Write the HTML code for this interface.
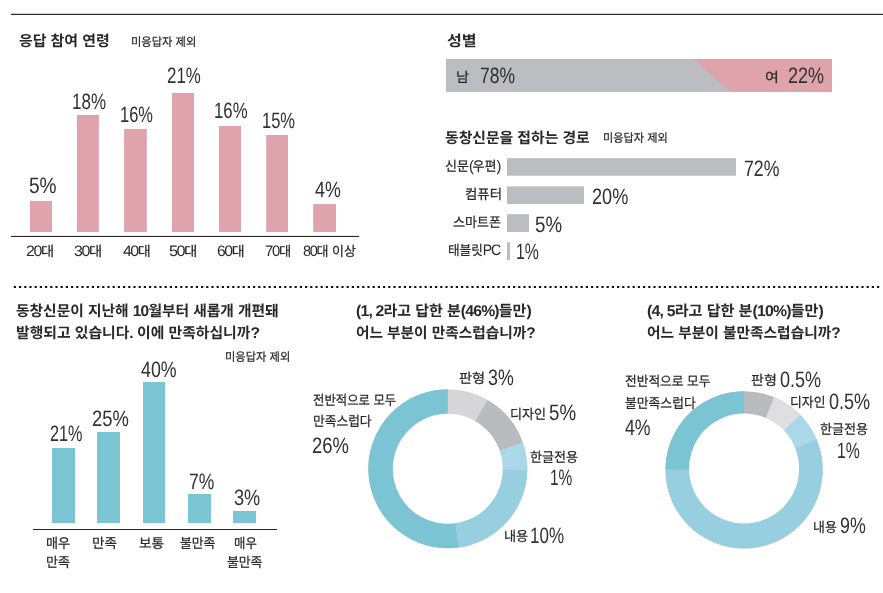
<!DOCTYPE html>
<html lang="ko">
<head>
<meta charset="utf-8">
<title>동창신문 설문조사 결과</title>
<style>
html,body{margin:0;padding:0;background:#fff;}
body{width:883px;height:593px;position:relative;overflow:hidden;
  font-family:"Liberation Sans","Noto Sans CJK KR","NanumGothic",sans-serif;color:#2a2829;}
#shapes{position:absolute;left:0;top:0;width:883px;height:593px;display:block;}
.t{position:absolute;white-space:nowrap;line-height:1;transform-origin:0 0;margin:0;padding:0;}
.b{font-weight:700;}
.r{font-weight:400;-webkit-text-stroke:0.22px currentColor;}
.n{font-weight:400;color:#323031;}
.r .d{font-size:1.12em;letter-spacing:-0.09em;-webkit-text-stroke:0;}
.b .d{font-size:1.05em;letter-spacing:-0.05em;}
</style>
</head>
<body>
<svg id="shapes" width="883" height="593" viewBox="0 0 883 593" shape-rendering="geometricPrecision">
<rect x="11" y="13.8" width="872" height="1.2" fill="#2a2829"/>
<line x1="13.8" y1="287" x2="880" y2="287" stroke="#111" stroke-width="2" stroke-dasharray="2.2 3"/>
<rect x="30.0" y="201.0" width="22.0" height="31.0" fill="#dfa3ab"/>
<rect x="76.9" y="115.0" width="22.0" height="117.0" fill="#dfa3ab"/>
<rect x="124.1" y="129.0" width="22.7" height="103.0" fill="#dfa3ab"/>
<rect x="172.0" y="93.0" width="22.0" height="139.0" fill="#dfa3ab"/>
<rect x="219.0" y="126.0" width="22.0" height="106.0" fill="#dfa3ab"/>
<rect x="266.2" y="135.0" width="21.8" height="97.0" fill="#dfa3ab"/>
<rect x="313.2" y="204.0" width="22.8" height="28.0" fill="#dfa3ab"/>
<rect x="11" y="235.9" width="348" height="1.1" fill="#2a2829"/>
<rect x="446" y="59" width="386" height="33" fill="#bcbdc0"/>
<polygon points="693,59 832,59 832,92 731,92" fill="#dfa3ab"/>
<rect x="507" y="158.2" width="229.0" height="17.5" fill="#bcbdc0"/>
<rect x="507" y="186.3" width="77.0" height="17.7" fill="#bcbdc0"/>
<rect x="507" y="214.2" width="22.0" height="17.8" fill="#bcbdc0"/>
<rect x="507" y="242.3" width="3.0" height="17.7" fill="#bcbdc0"/>
<rect x="52.0" y="448.0" width="23.0" height="75.0" fill="#7ac4d4"/>
<rect x="97.0" y="432.0" width="23.0" height="91.0" fill="#7ac4d4"/>
<rect x="143.0" y="382.0" width="22.0" height="141.0" fill="#7ac4d4"/>
<rect x="188.0" y="494.0" width="23.0" height="29.0" fill="#7ac4d4"/>
<rect x="233.0" y="511.0" width="23.0" height="12.0" fill="#7ac4d4"/>
<rect x="33" y="529" width="244" height="1" fill="#2a2829"/>
<circle cx="447.80" cy="468.80" r="79.50" fill="#d6d6d9"/>
<path fill="#babbbf" d="M447.80 468.80 L487.55 399.95 A79.50 79.50 0 0 1 523.10 443.31 Z"/>
<path fill="#abd8e9" d="M447.80 468.80 L522.74 442.26 A79.50 79.50 0 0 1 527.25 471.57 Z"/>
<path fill="#97cfe0" d="M447.80 468.80 L527.28 470.46 A79.50 79.50 0 0 1 457.21 547.74 Z"/>
<path fill="#7ac4d4" d="M447.80 468.80 L458.31 547.60 A79.50 79.50 0 1 1 447.80 389.30 Z"/>
<circle cx="447.80" cy="468.80" r="55.00" fill="#fff"/>
<circle cx="744.10" cy="469.80" r="78.60" fill="#babbbf"/>
<path fill="#dfdee2" d="M744.10 469.80 L774.18 397.18 A78.60 78.60 0 0 1 800.93 415.50 Z"/>
<path fill="#abd8e9" d="M744.10 469.80 L800.16 414.71 A78.60 78.60 0 0 1 816.98 440.36 Z"/>
<path fill="#97cfe0" d="M744.10 469.80 L816.56 439.34 A78.60 78.60 0 1 1 665.51 468.29 Z"/>
<path fill="#7ac4d4" d="M744.10 469.80 L665.50 469.39 A78.60 78.60 0 0 1 744.10 391.20 Z"/>
<circle cx="744.10" cy="468.50" r="55.00" fill="#fff"/>
</svg>
<div id="t1" class="t b" style="left:18.68px;top:33.56px;font-size:14.80px;transform:scaleX(1.0090) rotate(0.03deg)">응답 참여 연령</div>
<div id="t1s" class="t r" style="left:130.55px;top:36.63px;font-size:11.80px;transform:scaleX(0.9546) rotate(0.03deg)">미응답자 제외</div>
<div id="a_v1" class="t n" style="left:28.52px;top:174.62px;font-size:22.30px;transform:scaleX(0.8570) rotate(0.03deg)">5%</div>
<div id="a_v2" class="t n" style="left:71.55px;top:90.74px;font-size:22.30px;transform:scaleX(0.7621) rotate(0.03deg)">18%</div>
<div id="a_v3" class="t n" style="left:119.68px;top:103.64px;font-size:22.30px;transform:scaleX(0.7396) rotate(0.03deg)">16%</div>
<div id="a_v4" class="t n" style="left:166.51px;top:64.67px;font-size:22.30px;transform:scaleX(0.7576) rotate(0.03deg)">21%</div>
<div id="a_v5" class="t n" style="left:213.68px;top:99.52px;font-size:22.30px;transform:scaleX(0.7525) rotate(0.03deg)">16%</div>
<div id="a_v6" class="t n" style="left:261.65px;top:109.69px;font-size:22.30px;transform:scaleX(0.7398) rotate(0.03deg)">15%</div>
<div id="a_v7" class="t n" style="left:314.60px;top:178.69px;font-size:22.30px;transform:scaleX(0.7998) rotate(0.03deg)">4%</div>
<div id="a_l1" class="t r" style="left:25.68px;top:242.64px;font-size:13.50px;transform:scaleX(1.0571) rotate(0.03deg)"><span class="d">20</span>대</div>
<div id="a_l2" class="t r" style="left:73.63px;top:242.68px;font-size:13.50px;transform:scaleX(1.0571) rotate(0.03deg)"><span class="d">30</span>대</div>
<div id="a_l3" class="t r" style="left:122.59px;top:242.51px;font-size:13.50px;transform:scaleX(1.0448) rotate(0.03deg)"><span class="d">40</span>대</div>
<div id="a_l4" class="t r" style="left:168.57px;top:242.75px;font-size:13.50px;transform:scaleX(1.0723) rotate(0.03deg)"><span class="d">50</span>대</div>
<div id="a_l5" class="t r" style="left:216.71px;top:242.75px;font-size:13.50px;transform:scaleX(1.0383) rotate(0.03deg)"><span class="d">60</span>대</div>
<div id="a_l6" class="t r" style="left:264.71px;top:242.75px;font-size:13.50px;transform:scaleX(0.9850) rotate(0.03deg)"><span class="d">70</span>대</div>
<div id="a_l7" class="t r" style="left:302.71px;top:242.54px;font-size:13.50px;transform:scaleX(0.9615) rotate(0.03deg)"><span class="d">80</span>대 이상</div>
<div id="g_t" class="t b" style="left:446.68px;top:33.54px;font-size:14.80px;transform:scaleX(1.0891) rotate(0.03deg)">성별</div>
<div id="g_m" class="t r" style="left:455.58px;top:70.53px;font-size:13.50px;transform:scaleX(1.0564) rotate(0.03deg)">남</div>
<div id="g_mv" class="t n" style="left:479.53px;top:64.74px;font-size:22.30px;transform:scaleX(0.7837) rotate(0.03deg)">78%</div>
<div id="g_f" class="t r" style="left:764.57px;top:70.56px;font-size:13.50px;transform:scaleX(1.1129) rotate(0.03deg)">여</div>
<div id="g_fv" class="t n" style="left:787.74px;top:64.67px;font-size:22.30px;transform:scaleX(0.8055) rotate(0.03deg)">22%</div>
<div id="r_t" class="t b" style="left:444.57px;top:130.51px;font-size:14.80px;transform:scaleX(1.0025) rotate(0.03deg)">동창신문을 접하는 경로</div>
<div id="r_ts" class="t r" style="left:602.74px;top:132.74px;font-size:11.80px;transform:scaleX(0.9473) rotate(0.03deg)">미응답자 제외</div>
<div id="r_l1" class="t r" style="left:444.73px;top:157.69px;font-size:13.50px;transform:scaleX(0.9646) rotate(0.03deg)">신문<span class="d">(</span>우편<span class="d">)</span></div>
<div id="r_l2" class="t r" style="left:464.55px;top:187.51px;font-size:13.50px;transform:scaleX(0.9948) rotate(0.03deg)">컴퓨터</div>
<div id="r_l3" class="t r" style="left:452.71px;top:215.64px;font-size:13.50px;transform:scaleX(0.9635) rotate(0.03deg)">스마트폰</div>
<div id="r_l4" class="t r" style="left:447.67px;top:241.64px;font-size:13.50px;transform:scaleX(0.9349) rotate(0.03deg)">태블릿<span class="d">PC</span></div>
<div id="r_v1" class="t n" style="left:743.50px;top:157.71px;font-size:22.30px;transform:scaleX(0.7942) rotate(0.03deg)">72%</div>
<div id="r_v2" class="t n" style="left:591.71px;top:185.74px;font-size:22.30px;transform:scaleX(0.8129) rotate(0.03deg)">20%</div>
<div id="r_v3" class="t n" style="left:534.52px;top:213.69px;font-size:22.30px;transform:scaleX(0.8409) rotate(0.03deg)">5%</div>
<div id="r_v4" class="t n" style="left:515.55px;top:240.60px;font-size:22.30px;transform:scaleX(0.7108) rotate(0.03deg)">1%</div>
<div id="s_t1" class="t b" style="left:15.74px;top:303.33px;font-size:14.80px;transform:scaleX(0.9965) rotate(0.03deg)">동창신문이 지난해 <span class="d">10</span>월부터 새롭개 개편돼</div>
<div id="s_t2" class="t b" style="left:15.71px;top:324.63px;font-size:14.80px;transform:scaleX(1.0031) rotate(0.03deg)">발행되고 있습니다<span class="d">.</span> 이에 만족하십니까<span class="d">?</span></div>
<div id="s_ts" class="t r" style="left:224.67px;top:351.72px;font-size:11.80px;transform:scaleX(0.9543) rotate(0.03deg)">미응답자 제외</div>
<div id="s_v1" class="t n" style="left:49.71px;top:422.72px;font-size:22.30px;transform:scaleX(0.7302) rotate(0.03deg)">21%</div>
<div id="s_v2" class="t n" style="left:91.73px;top:407.70px;font-size:22.30px;transform:scaleX(0.8262) rotate(0.03deg)">25%</div>
<div id="s_v3" class="t n" style="left:140.65px;top:358.67px;font-size:22.30px;transform:scaleX(0.7991) rotate(0.03deg)">40%</div>
<div id="s_v4" class="t n" style="left:188.51px;top:470.66px;font-size:22.30px;transform:scaleX(0.7866) rotate(0.03deg)">7%</div>
<div id="s_v5" class="t n" style="left:233.69px;top:486.53px;font-size:22.30px;transform:scaleX(0.8150) rotate(0.03deg)">3%</div>
<div id="s_l1a" class="t r" style="left:45.57px;top:536.65px;font-size:13.50px;transform:scaleX(0.9668) rotate(0.03deg)">매우</div>
<div id="s_l1b" class="t r" style="left:45.67px;top:555.74px;font-size:13.50px;transform:scaleX(0.9653) rotate(0.03deg)">만족</div>
<div id="s_l2" class="t r" style="left:91.52px;top:536.54px;font-size:13.50px;transform:scaleX(0.9997) rotate(0.03deg)">만족</div>
<div id="s_l3" class="t r" style="left:138.67px;top:536.67px;font-size:13.50px;transform:scaleX(1.0051) rotate(0.03deg)">보통</div>
<div id="s_l4" class="t r" style="left:179.52px;top:536.62px;font-size:13.50px;transform:scaleX(0.9511) rotate(0.03deg)">불만족</div>
<div id="s_l5a" class="t r" style="left:233.53px;top:536.63px;font-size:13.50px;transform:scaleX(0.9164) rotate(0.03deg)">매우</div>
<div id="s_l5b" class="t r" style="left:226.52px;top:555.59px;font-size:13.50px;transform:scaleX(0.9511) rotate(0.03deg)">불만족</div>
<div id="d1_t1" class="t b" style="left:355.75px;top:303.39px;font-size:14.80px;transform:scaleX(1.0126) rotate(0.03deg)"><span class="d">(1, 2</span>라고 답한 분<span class="d">(46%)</span>들만<span class="d">)</span></div>
<div id="d1_t2" class="t b" style="left:355.54px;top:324.69px;font-size:14.80px;transform:scaleX(0.9922) rotate(0.03deg)">어느 부분이 만족스럽습니까<span class="d">?</span></div>
<div id="d1_a" class="t r" style="left:312.67px;top:393.73px;font-size:13.50px;transform:scaleX(0.9182) rotate(0.03deg)">전반적으로 모두</div>
<div id="d1_b" class="t r" style="left:312.70px;top:414.64px;font-size:13.50px;transform:scaleX(0.9431) rotate(0.03deg)">만족스럽다</div>
<div id="d1_bv" class="t n" style="left:311.72px;top:434.55px;font-size:22.30px;transform:scaleX(0.8260) rotate(0.03deg)">26%</div>
<div id="d1_c" class="t r" style="left:458.62px;top:371.70px;font-size:13.50px;transform:scaleX(1.0560) rotate(0.03deg)">판형</div>
<div id="d1_cv" class="t n" style="left:487.67px;top:366.72px;font-size:22.30px;transform:scaleX(0.7978) rotate(0.03deg)">3%</div>
<div id="d1_d" class="t r" style="left:509.74px;top:407.63px;font-size:13.50px;transform:scaleX(0.9697) rotate(0.03deg)">디자인</div>
<div id="d1_dv" class="t n" style="left:548.52px;top:401.69px;font-size:22.30px;transform:scaleX(0.8409) rotate(0.03deg)">5%</div>
<div id="d1_e" class="t r" style="left:529.54px;top:450.58px;font-size:13.50px;transform:scaleX(0.9679) rotate(0.03deg)">한글전용</div>
<div id="d1_ev" class="t n" style="left:549.62px;top:466.52px;font-size:22.30px;transform:scaleX(0.6946) rotate(0.03deg)">1%</div>
<div id="d1_f" class="t r" style="left:503.60px;top:529.62px;font-size:13.50px;transform:scaleX(0.9754) rotate(0.03deg)">내용</div>
<div id="d1_fv" class="t n" style="left:529.51px;top:524.61px;font-size:22.30px;transform:scaleX(0.7622) rotate(0.03deg)">10%</div>
<div id="d2_t1" class="t b" style="left:646.72px;top:303.39px;font-size:14.80px;transform:scaleX(1.0187) rotate(0.03deg)"><span class="d">(4, 5</span>라고 답한 분<span class="d">(10%)</span>들만<span class="d">)</span></div>
<div id="d2_t2" class="t b" style="left:646.67px;top:324.69px;font-size:14.80px;transform:scaleX(0.9951) rotate(0.03deg)">어느 부분이 불만족스럽습니까<span class="d">?</span></div>
<div id="d2_a" class="t r" style="left:624.58px;top:374.71px;font-size:13.50px;transform:scaleX(0.9421) rotate(0.03deg)">전반적으로 모두</div>
<div id="d2_b" class="t r" style="left:624.58px;top:396.52px;font-size:13.50px;transform:scaleX(0.9492) rotate(0.03deg)">불만족스럽다</div>
<div id="d2_bv" class="t n" style="left:624.59px;top:416.53px;font-size:22.30px;transform:scaleX(0.7958) rotate(0.03deg)">4%</div>
<div id="d2_c" class="t r" style="left:750.50px;top:373.51px;font-size:13.50px;transform:scaleX(1.0393) rotate(0.03deg)">판형</div>
<div id="d2_cv" class="t n" style="left:779.52px;top:368.65px;font-size:22.30px;transform:scaleX(0.8105) rotate(0.03deg)">0.5%</div>
<div id="d2_d" class="t r" style="left:789.64px;top:395.66px;font-size:13.50px;transform:scaleX(0.9515) rotate(0.03deg)">디자인</div>
<div id="d2_dv" class="t n" style="left:828.54px;top:390.65px;font-size:22.30px;transform:scaleX(0.8105) rotate(0.03deg)">0.5%</div>
<div id="d2_e" class="t r" style="left:819.64px;top:422.71px;font-size:13.50px;transform:scaleX(0.9679) rotate(0.03deg)">한글전용</div>
<div id="d2_ev" class="t n" style="left:836.61px;top:439.73px;font-size:22.30px;transform:scaleX(0.7087) rotate(0.03deg)">1%</div>
<div id="d2_f" class="t r" style="left:812.50px;top:520.60px;font-size:13.50px;transform:scaleX(0.9575) rotate(0.03deg)">내용</div>
<div id="d2_fv" class="t n" style="left:839.50px;top:514.72px;font-size:22.30px;transform:scaleX(0.7998) rotate(0.03deg)">9%</div>
</body>
</html>
